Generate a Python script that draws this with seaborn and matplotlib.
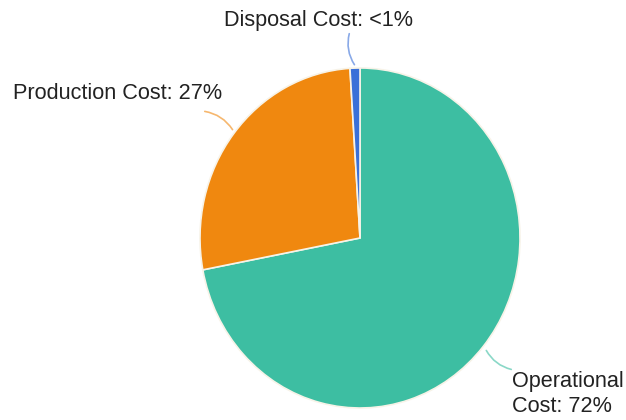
import matplotlib
matplotlib.use('Agg')
import matplotlib.pyplot as plt
import seaborn as sns
from matplotlib.patches import FancyArrowPatch

# data
categories = ['Operational Cost', 'Production Cost', 'Disposal Cost']
values = [72, 27, 1]
label_texts = ['Operational\nCost: 72%', 'Production Cost: 27%', 'Disposal Cost: <1%']
colors = ['#3dbea2', '#f0880f', '#3a70d8']

sns.set_style('white')
plt.rcParams['font.family'] = ['Liberation Sans', 'DejaVu Sans']

W, H = 626, 420
SY = 160 / 170  # pie in the reference is a bit taller than wide

fig = plt.figure(figsize=(W / 100, H / 100), dpi=100)
ax = fig.add_axes([0, 0, 1, 1])


def py(y):
    # pixel row -> data y
    return (H - y) * SY


cx, cy, r = 360, py(238), 160
ax.pie(values, colors=colors, startangle=90, counterclock=False,
       center=(cx, cy), radius=r,
       wedgeprops=dict(edgecolor='#f7f3e8', linewidth=1.2))
ax.set_aspect('auto')
ax.set_xlim(0, W)
ax.set_ylim(0, H * SY)
ax.axis('off')

# leader lines (start at wedge edge, end near label)
leaders = [((485, 348), (514, 370), 0.25),
           ((234, 132), (202, 111), 0.25),
           ((356, 67), (350, 31), -0.25)]
text_pos = [(512, 394), (13, 93), (224, 20)]

for (s, e, rad), col in zip(leaders, colors):
    ax.add_patch(FancyArrowPatch((s[0], py(s[1])), (e[0], py(e[1])),
                                 arrowstyle='-', connectionstyle=f'arc3,rad={rad}',
                                 color=col, alpha=0.6, lw=1.2))

for (x, y), txt in zip(text_pos, label_texts):
    ax.text(x, py(y), txt, ha='left', va='center', fontsize=15.6, color='#222222',
            linespacing=1.3)

fig.savefig('out.png', dpi=100)
